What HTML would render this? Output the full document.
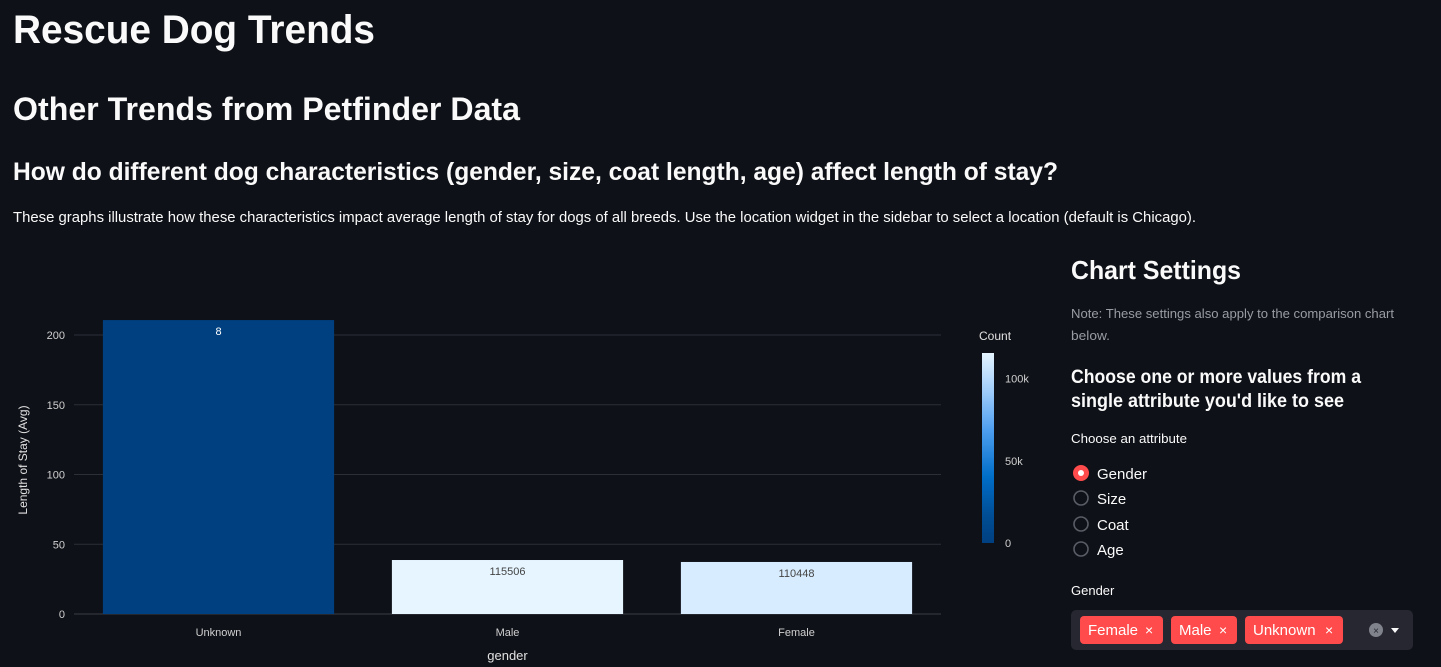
<!DOCTYPE html>
<html><head><meta charset="utf-8"><style>
html,body{margin:0;padding:0;background:#0e1117;width:1441px;height:667px;overflow:hidden}
svg{display:block;font-family:"Liberation Sans",sans-serif}
</style></head><body>
<svg id="page" width="1441" height="667" viewBox="0 0 1441 667">
<rect width="1441" height="667" fill="#0e1117"/>
<text x="13" y="43" font-size="40" font-weight="bold" fill="#fafafa" textLength="362" lengthAdjust="spacingAndGlyphs">Rescue Dog Trends</text>
<text x="13" y="120" font-size="32" font-weight="bold" fill="#fafafa" textLength="507" lengthAdjust="spacingAndGlyphs">Other Trends from Petfinder Data</text>
<text x="13" y="180" font-size="25" font-weight="bold" fill="#fafafa" textLength="1045" lengthAdjust="spacingAndGlyphs">How do different dog characteristics (gender, size, coat length, age) affect length of stay?</text>
<text x="13" y="222" font-size="15" fill="#fafafa" textLength="1183" lengthAdjust="spacingAndGlyphs">These graphs illustrate how these characteristics impact average length of stay for dogs of all breeds. Use the location widget in the sidebar to select a location (default is Chicago).</text>

<g id="chart"></g>

<g>
<text x="1071" y="279" font-size="26" font-weight="bold" fill="#fafafa" textLength="170" lengthAdjust="spacingAndGlyphs">Chart Settings</text>
<text x="1071" y="318" font-size="13" fill="#9a9ca3" textLength="323" lengthAdjust="spacingAndGlyphs">Note: These settings also apply to the comparison chart</text>
<text x="1071" y="340" font-size="13" fill="#9a9ca3" textLength="39" lengthAdjust="spacingAndGlyphs">below.</text>
<text x="1071" y="383" font-size="19" font-weight="bold" fill="#fafafa" textLength="290" lengthAdjust="spacingAndGlyphs">Choose one or more values from a</text>
<text x="1071" y="407" font-size="19" font-weight="bold" fill="#fafafa" textLength="273" lengthAdjust="spacingAndGlyphs">single attribute you'd like to see</text>
<text x="1071" y="443" font-size="13" fill="#fafafa" textLength="116" lengthAdjust="spacingAndGlyphs">Choose an attribute</text>
<g><circle cx="1081" cy="473" r="8" fill="#ff4b4b"/><circle cx="1081" cy="473" r="3" fill="#fff"/><text x="1097" y="479" font-size="15" fill="#fafafa">Gender</text></g>
<g><circle cx="1081" cy="498" r="7" fill="none" stroke="#5a5d66" stroke-width="1.6"/><text x="1097" y="504" font-size="15" fill="#fafafa">Size</text></g>
<g><circle cx="1081" cy="524" r="7" fill="none" stroke="#5a5d66" stroke-width="1.6"/><text x="1097" y="530" font-size="15" fill="#fafafa">Coat</text></g>
<g><circle cx="1081" cy="549" r="7" fill="none" stroke="#5a5d66" stroke-width="1.6"/><text x="1097" y="555" font-size="15" fill="#fafafa">Age</text></g>
<text x="1071" y="595" font-size="13" fill="#fafafa">Gender</text>
<g>
<rect x="1071" y="610" width="342" height="40" rx="5" fill="#262730"/>
<g><rect x="1080" y="616" width="83" height="28" rx="4" fill="#ff4b4b"/><text x="1088" y="635" font-size="15" fill="#fff">Female</text><text x="1145" y="635" font-size="14" fill="#fff">×</text></g>
<g><rect x="1171" y="616" width="66" height="28" rx="4" fill="#ff4b4b"/><text x="1179" y="635" font-size="15" fill="#fff">Male</text><text x="1219" y="635" font-size="14" fill="#fff">×</text></g>
<g><rect x="1245" y="616" width="98" height="28" rx="4" fill="#ff4b4b"/><text x="1253" y="635" font-size="15" fill="#fff">Unknown</text><text x="1325" y="635" font-size="14" fill="#fff">×</text></g>
<g><circle cx="1376" cy="630" r="7" fill="#80838c"/><text x="1376" y="634" font-size="10" text-anchor="middle" fill="#262730">×</text></g>
<path d="M1391 628 L1399 628 L1395 633 Z" fill="#fafafa"/>
</g>
</g>
</svg>
<script>
const categories = ["Unknown", "Male", "Female"];
const avgStay = [210.7, 38.7, 37.3];
const counts = [8, 115506, 110448];
const yTicks = [0, 50, 100, 150, 200];
const cbTicks = [0, 50000, 100000];
const cbTickLabels = ["0", "50k", "100k"];

const NS = "http://www.w3.org/2000/svg";
const g = document.getElementById("chart");
const X0 = 74, X1 = 941, Y0 = 614, PX = 1.395;
const band = (X1 - X0) / categories.length;
const yScale = v => Y0 - v * PX;
const xScale = i => X0 + band * i + band / 2;
const cMax = Math.max(...counts);
const cbTop = 353, cbBot = 543;
const cbScale = v => cbBot - v / cMax * (cbBot - cbTop);
const stops = [[0,[0,64,128]],[0.15,[0,78,150]],[0.35,[0,110,200]],[0.6,[80,160,240]],[0.8,[160,205,250]],[1,[230,245,255]]];
function color(t){for(let i=1;i<stops.length;i++){if(t<=stops[i][0]){const a=stops[i-1],b=stops[i];const f=(t-a[0])/(b[0]-a[0]);const c=a[1].map((v,k)=>Math.round(v+(b[1][k]-v)*f));return `rgb(${c})`;}}return "rgb(230,245,255)";}
function el(tag, attrs, text){const e=document.createElementNS(NS,tag);for(const k in attrs)e.setAttribute(k,attrs[k]);if(text!==undefined)e.textContent=text;g.appendChild(e);return e;}

yTicks.forEach(v=>{
  const l=el("line",{x1:X0,x2:X1,y1:yScale(v),y2:yScale(v),stroke:v===0?"#3a3d46":"#2c2f38","stroke-width":1});
  
  
  const t=el("text",{x:65,y:yScale(v)+4,"font-size":11,fill:"#d0d0d0","text-anchor":"end"},String(v));
  
  
});
categories.forEach((c,i)=>{
  const w=band*0.8, x=xScale(i)-w/2, y=yScale(avgStay[i]);
  const t=counts[i]/cMax;
  const r=el("rect",{x:x,y:y,width:w,height:Y0-y,fill:color(t)});
  
  
  const lab=el("text",{x:xScale(i),y:y+15,"font-size":11,fill:t>0.5?"#444":"#fff","text-anchor":"middle"},String(counts[i]));
  
  
  const xl=el("text",{x:xScale(i),y:636,"font-size":11,fill:"#d0d0d0","text-anchor":"middle"},c);
  
  
});
const xt=el("text",{x:(X0+X1)/2,y:660,"font-size":13,fill:"#e0e0e0","text-anchor":"middle"},"gender");


const yt=el("text",{x:0,y:0,"font-size":12,fill:"#e0e0e0","text-anchor":"middle",transform:"translate(27,460) rotate(-90)"},"Length of Stay (Avg)");


const defs=el("defs",{});
const lg=document.createElementNS(NS,"linearGradient");lg.setAttribute("id","cbg");lg.setAttribute("x1","0");lg.setAttribute("y1","1");lg.setAttribute("x2","0");lg.setAttribute("y2","0");
stops.forEach(s=>{const st=document.createElementNS(NS,"stop");st.setAttribute("offset",s[0]);st.setAttribute("stop-color",`rgb(${s[1]})`);lg.appendChild(st);});
defs.appendChild(lg);
const cb=el("rect",{x:982,y:cbTop,width:12,height:cbBot-cbTop,fill:"url(#cbg)"});


const ct=el("text",{x:979,y:340,"font-size":12,fill:"#e0e0e0"},"Count");


cbTicks.forEach((v,i)=>{
  const t=el("text",{x:1005,y:cbScale(v)+4,"font-size":11,fill:"#d0d0d0"},cbTickLabels[i]);
  
  
});
</script>
</body></html>
